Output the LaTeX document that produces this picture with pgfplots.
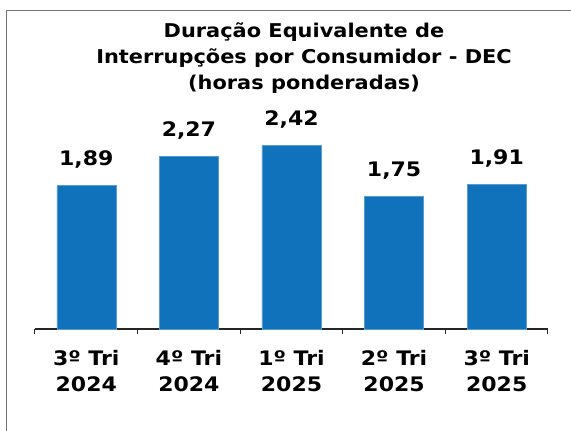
\documentclass[border=0pt]{standalone}
\usepackage{fontspec}
\setmainfont{DejaVu Sans}[FakeStretch=1.1]
\usepackage{pgfplots}
\pgfplotsset{compat=1.18}
\definecolor{barblue}{RGB}{15,114,187}
\begin{document}
\begin{tikzpicture}[x=1pt,y=1pt]
\useasboundingbox (0,0) rectangle (571,431);
\draw[black!55, line width=1pt] (6.5,0) -- (6.5,420.5) -- (571,420.5);
\begin{axis}[
  at={(35pt,102pt)}, anchor=south west,
  scale only axis, width=513pt, height=265.65pt,
  xmin=-0.5, xmax=4.5, ymin=0, ymax=3.5,
  axis x line*=bottom, axis y line=none,
  axis line style={line width=2pt, black!85},
  xtick={0,1,2,3,4},
  xticklabels={{3º Tri\\2024},{4º Tri\\2024},{1º Tri\\2025},{2º Tri\\2025},{3º Tri\\2025}},
  major tick length=0pt,
  minor xtick={-0.5,0.5,1.5,2.5,3.5,4.5},
  minor tick length=5pt,
  tick align=outside,
  minor tick style={line width=1pt, black!85},
  xticklabel style={font=\bfseries\fontsize{20}{26}\selectfont, align=center, yshift=-18pt},
  /pgf/number format/assume math mode=true,
  ybar, bar width=59pt,
  nodes near coords={\pgfmathprintnumber[use comma,fixed,fixed zerofill,precision=2,assume math mode=true]{\pgfplotspointmeta}},
  every node near coord/.append style={font=\bfseries\fontsize{20}{24}\selectfont, anchor=base, yshift=20pt, black},
  clip=false,
]
\addplot[fill=barblue, draw=barblue!70!white, line width=0.5pt] coordinates {(0,1.89) (1,2.27) (2,2.42) (3,1.75) (4,1.91)};
\end{axis}
\begin{scope}[font=\bfseries\fontsize{19}{26}\selectfont]
\node[anchor=base] at (304,393) {Duração Equivalente de};
\node[anchor=base] at (304,367) {Interrupções por Consumidor - DEC};
\node[anchor=base] at (304,341) {(horas ponderadas)};
\end{scope}
\end{tikzpicture}
\end{document}
